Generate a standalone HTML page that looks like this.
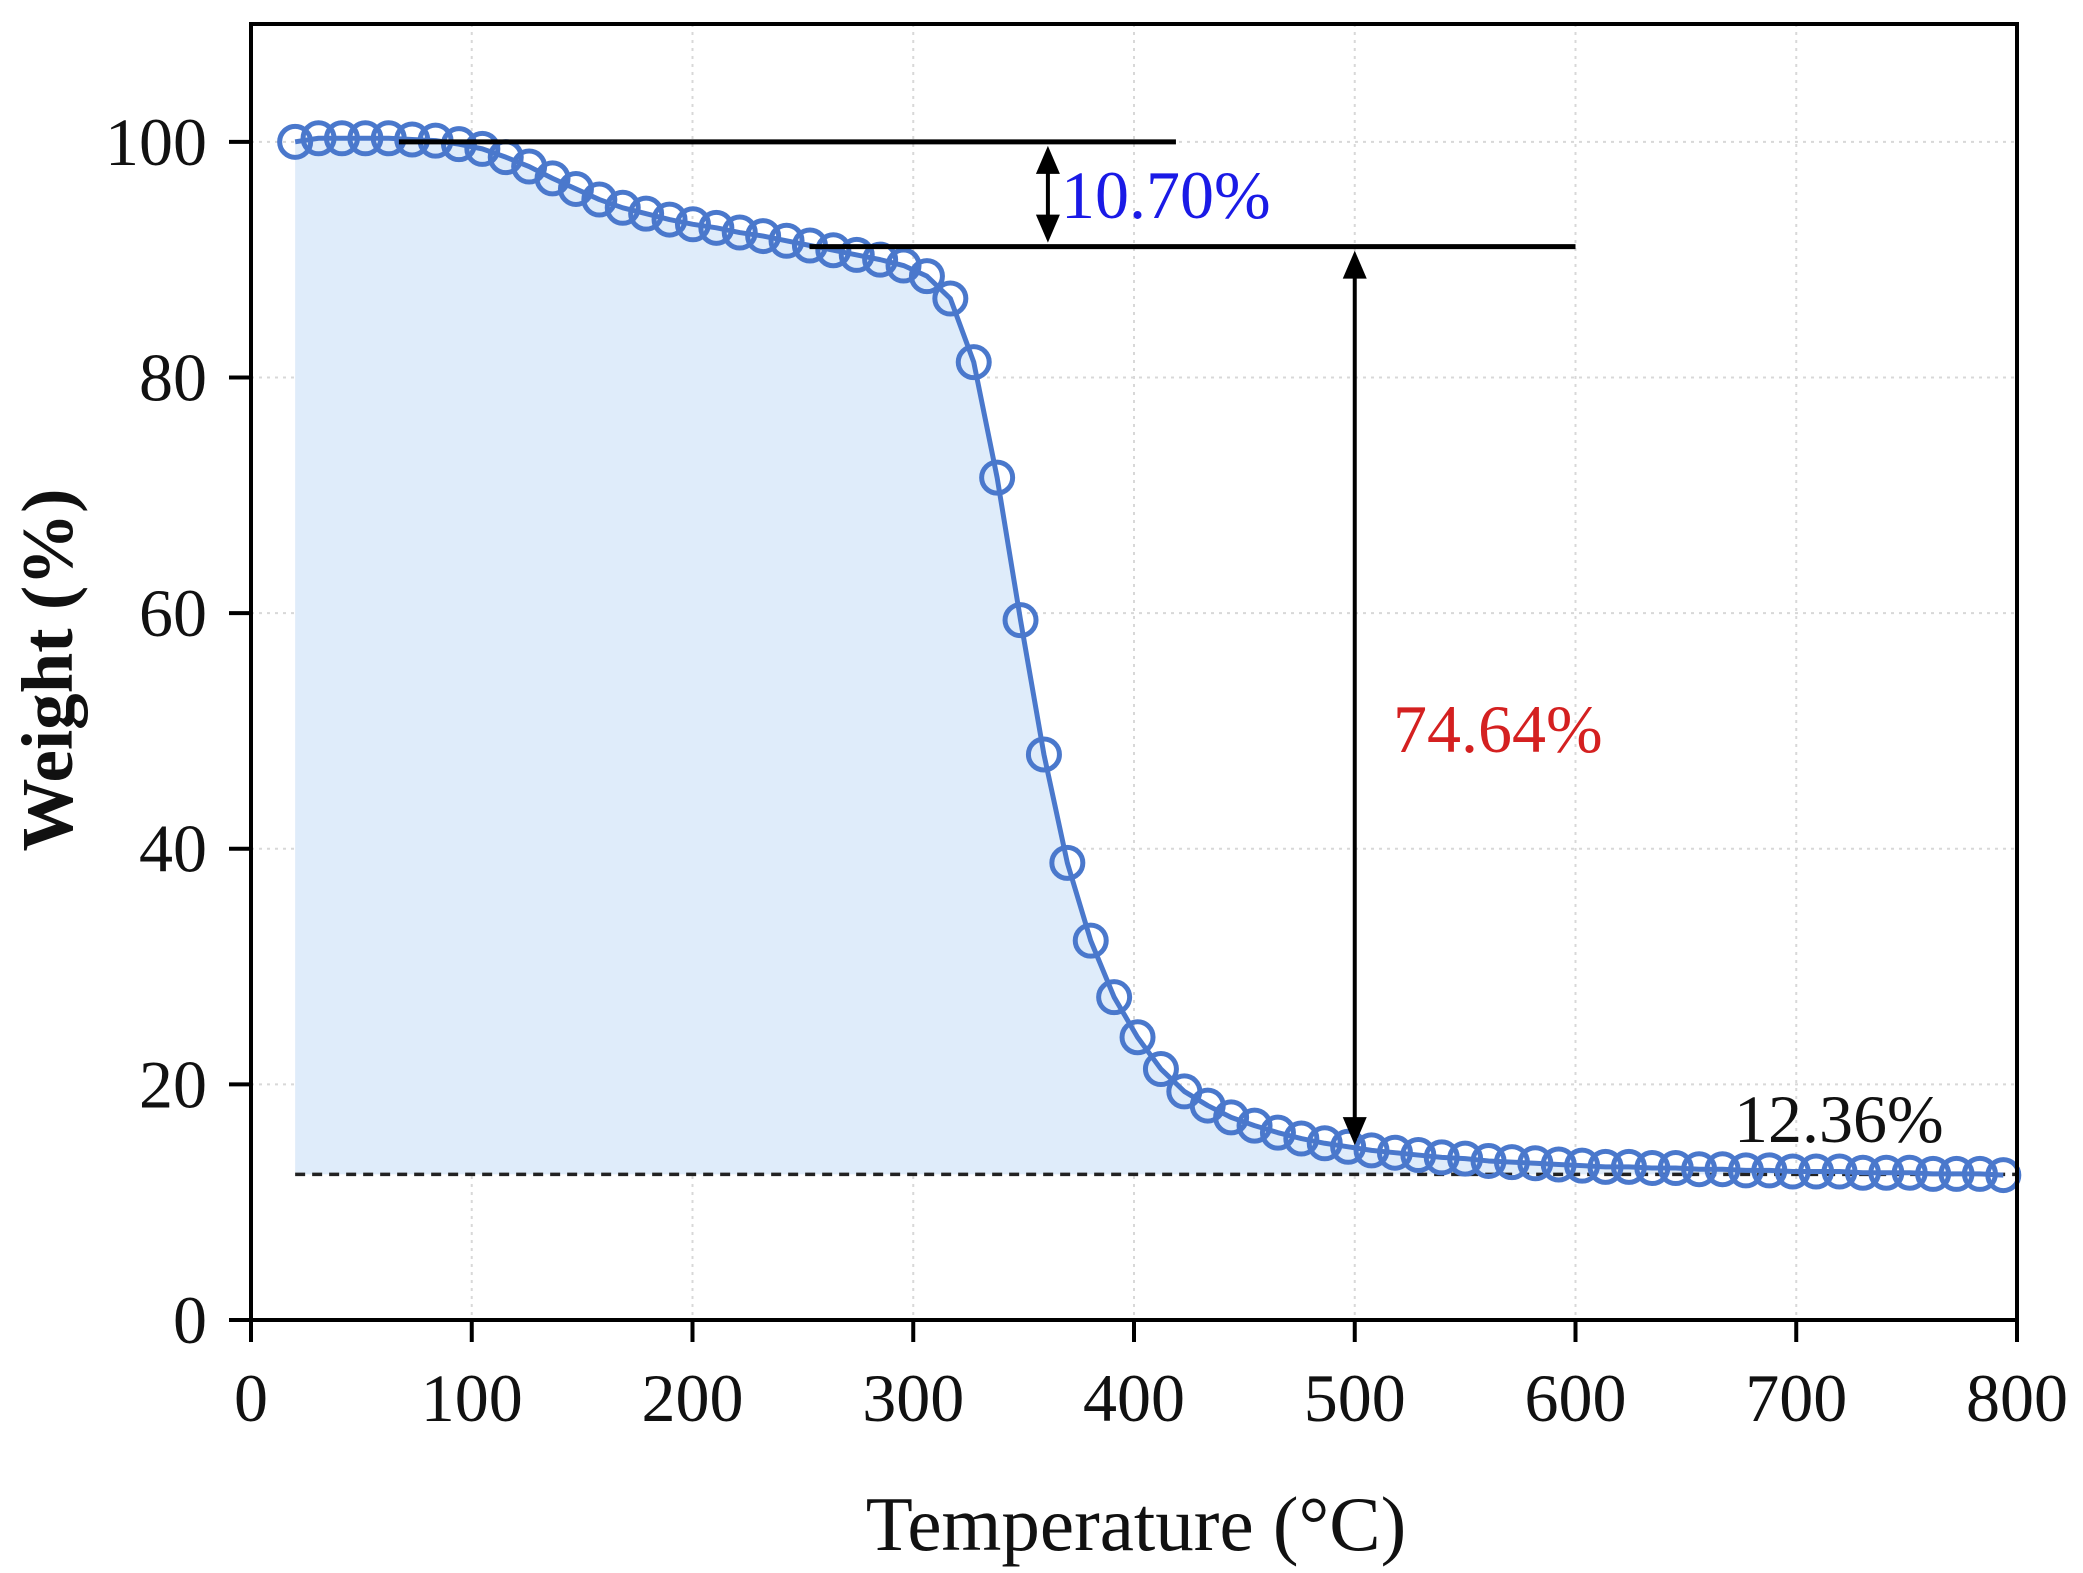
<!DOCTYPE html>
<html><head><meta charset="utf-8"><style>
html,body{margin:0;padding:0;background:#fff;}
svg{display:block;font-family:"Liberation Serif",serif;}
</style></head><body>
<svg id="chart" width="2083" height="1573" viewBox="0 0 2083 1573" xmlns="http://www.w3.org/2000/svg">
<g id="grid"></g>
<g id="fill"></g>
<g id="series"></g>
<g id="annot"></g>
<g id="axes"></g>
</svg>
<script>
const temps = [20,30.6,41.2,51.8,62.4,73,83.6,94.2,104.8,115.4,126,136.6,147.2,157.8,168.4,179,189.6,200.2,210.8,221.4,232,242.6,253.2,263.8,274.4,285,295.6,306.2,316.8,327.4,338,348.6,359.2,369.8,380.4,391,401.6,412.2,422.8,433.4,444,454.6,465.2,475.8,486.4,497,507.6,518.2,528.8,539.4,550,560.6,571.2,581.8,592.4,603,613.6,624.2,634.8,645.4,656,666.6,677.2,687.8,698.4,709,719.6,730.2,740.8,751.4,762,772.6,783.2,793.8];
const weights = [100,100.3,100.3,100.3,100.3,100.2,100.1,99.8,99.4,98.7,97.9,96.9,96.0,95.1,94.4,93.9,93.4,93.0,92.7,92.3,92.0,91.6,91.2,90.8,90.4,90.0,89.5,88.6,86.7,81.3,71.5,59.4,48.0,38.8,32.2,27.4,24.0,21.3,19.4,18.2,17.2,16.5,15.9,15.4,15.0,14.7,14.4,14.2,14.0,13.8,13.7,13.5,13.4,13.3,13.2,13.1,13.0,13.0,12.9,12.9,12.8,12.8,12.7,12.7,12.6,12.6,12.6,12.5,12.5,12.5,12.4,12.4,12.4,12.3];
const xTicks = [0,100,200,300,400,500,600,700,800];
const yTicks = [0,20,40,60,80,100];
const residue = 12.36;
const step1Top = 100, step1Bottom = 91.1, step2Bottom = 14.5;
const labels = ["10.70%","74.64%","12.36%"];

const NS="http://www.w3.org/2000/svg";
const X0=251,X1=2017,Y0=1320,Y1=24,XMAX=800,YMAX=110;
const sx=v=>X0+(X1-X0)*v/XMAX;
const sy=v=>Y0-(Y0-Y1)*v/YMAX;
function mk(tag,attrs,parent,text){const e=document.createElementNS(NS,tag);for(const k in attrs)e.setAttribute(k,attrs[k]);if(text!==undefined)e.textContent=text;parent.appendChild(e);return e;}
const grid=document.getElementById('grid'),fill=document.getElementById('fill'),series=document.getElementById('series'),annot=document.getElementById('annot'),axes=document.getElementById('axes');

xTicks.forEach(t=>{if(t===0||t===800)return;
 const l=mk('line',{x1:sx(t),x2:sx(t),y1:Y1,y2:Y0,stroke:'#d8d8d8','stroke-width':2,'stroke-dasharray':'3,5'},grid);
 
 });
yTicks.forEach(t=>{if(t===0)return;
 const l=mk('line',{x1:X0,x2:X1,y1:sy(t),y2:sy(t),stroke:'#d8d8d8','stroke-width':2,'stroke-dasharray':'3,5'},grid);
 
 });

let d='M'+sx(temps[0])+','+sy(residue);
temps.forEach((t,i)=>{d+=' L'+sx(t)+','+sy(Math.max(weights[i],residue));});
d+=' L'+sx(temps[temps.length-1])+','+sy(residue)+' Z';
const area=mk('path',{d:d,fill:'#dfecfa'},fill);



const dl=mk('line',{x1:sx(20),x2:X1,y1:sy(residue),y2:sy(residue),stroke:'#222','stroke-width':3.5,'stroke-dasharray':'10,7'},fill);



let pd='';temps.forEach((t,i)=>{pd+=(i?' L':'M')+sx(t)+','+sy(weights[i]);});
const cl=mk('path',{d:pd,fill:'none',stroke:'#4a78cc','stroke-width':5,'stroke-linejoin':'round'},series);


temps.forEach((t,i)=>{
 const c=mk('circle',{cx:sx(t),cy:sy(weights[i]),r:15.5,fill:'none',stroke:'#4a78cc','stroke-width':5},series);
 
 });

function hline(x1,x2,y,name){const l=mk('line',{x1:sx(x1),x2:sx(x2),y1:sy(y),y2:sy(y),stroke:'#000','stroke-width':5},annot);
 
 }
hline(67,419,step1Top,'step1-top-line');
hline(253,600,step1Bottom,'step1-bottom-line');
function head(x,y,dir){const h=mk('path',{d:`M${x},${y} L${x-12},${y+dir*28} L${x+12},${y+dir*28} Z`,fill:'#000'},annot);
 
 }
function varrow(xv,top,bot,name){const x=sx(xv),ya=sy(top)+4,yb=sy(bot)-4;
 const l=mk('line',{x1:x,x2:x,y1:ya+10,y2:yb-10,stroke:'#000','stroke-width':4},annot);
 
 
 head(x,ya,1);head(x,yb,-1);}
varrow(361,step1Top,step1Bottom,'step1-arrow');
varrow(500,step1Bottom,step2Bottom,'step2-arrow');

const t1=mk('text',{x:1061,y:218,'font-size':68,fill:'#1a1ae6'},annot,labels[0]);


const t2=mk('text',{x:1393,y:752,'font-size':68,fill:'#d42020'},annot,labels[1]);


const t3=mk('text',{x:1734,y:1142,'font-size':68,fill:'#111'},annot,labels[2]);



const fr=mk('rect',{x:X0,y:Y1,width:X1-X0,height:Y0-Y1,fill:'none',stroke:'#000','stroke-width':4},axes);


xTicks.forEach(t=>{
 const l=mk('line',{x1:sx(t),x2:sx(t),y1:Y0,y2:Y0+22,stroke:'#000','stroke-width':4},axes);
 
 
 const tx=mk('text',{x:sx(t),y:1421,'font-size':68,'text-anchor':'middle',fill:'#111'},axes,String(t));
 
 });
yTicks.forEach(t=>{
 const l=mk('line',{x1:X0-22,x2:X0,y1:sy(t),y2:sy(t),stroke:'#000','stroke-width':4},axes);
 
 
 const tx=mk('text',{x:207,y:sy(t)+23,'font-size':68,'text-anchor':'end',fill:'#111'},axes,String(t));
 
 });
const xt=mk('text',{x:1136,y:1550,'font-size':77,'text-anchor':'middle',fill:'#111'},axes,'Temperature (°C)');


const yt=mk('text',{x:0,y:0,'font-size':73,'font-weight':'bold','text-anchor':'middle',fill:'#111',transform:'translate(72,670) rotate(-90)'},axes,'Weight (%)');


</script>
</body></html>
